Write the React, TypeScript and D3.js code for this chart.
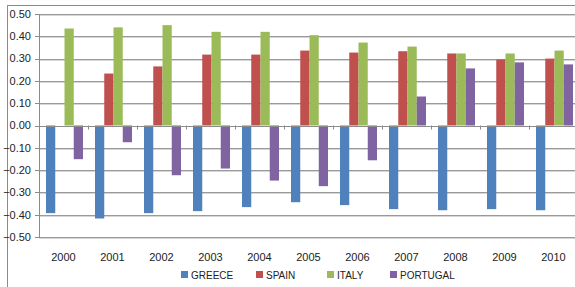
import React, { useEffect, useRef } from 'react';
import * as d3 from 'd3';

const years = ['2000', '2001', '2002', '2003', '2004', '2005', '2006', '2007', '2008', '2009', '2010'];
const countries = ['GREECE', 'SPAIN', 'ITALY', 'PORTUGAL'];
const colors = ['#4F81BD', '#C0504D', '#9BBB59', '#8064A2'];

const greece = [-0.393, -0.417, -0.393, -0.384, -0.366, -0.344, -0.357, -0.375, -0.38, -0.375, -0.38];
const spain = [0, 0.233, 0.265, 0.318, 0.318, 0.336, 0.327, 0.333, 0.323, 0.296, 0.3];
const italy = [0.435, 0.44, 0.45, 0.42, 0.42, 0.405, 0.372, 0.354, 0.323, 0.323, 0.336];
const portugal = [-0.151, -0.075, -0.223, -0.193, -0.247, -0.272, -0.156, 0.13, 0.256, 0.283, 0.274];

const yTicks = [0.5, 0.4, 0.3, 0.2, 0.1, 0, -0.1, -0.2, -0.3, -0.4, -0.5];

const W = 575;
const H = 287;
const FONT = '"Liberation Sans", Arial, sans-serif';

export default function App() {
  const ref = useRef(null);

  useEffect(() => {
    document.body.style.margin = '0';
    const svg = d3.select(ref.current);
    svg.selectAll('*').remove();

    const series = [greece, spain, italy, portugal];

    const x0 = d3.scaleBand().domain(years).range([39, 578]).padding(0);
    const x1 = d3.scaleBand().domain(countries).range([7, 44]).padding(0);
    const y = d3.scaleLinear().domain([-0.5, 0.5]).range([237, 14]);

    // outer border (top and left visible)
    svg.append('line').attr('x1', 7.5).attr('x2', W).attr('y1', 5.5).attr('y2', 5.5)
      .attr('stroke', '#8c8c8c').attr('stroke-width', 1);
    svg.append('line').attr('x1', 7.5).attr('x2', 7.5).attr('y1', 5).attr('y2', H)
      .attr('stroke', '#8c8c8c').attr('stroke-width', 1);

    // gridlines
    const grid = svg.append('g');
    yTicks.forEach(t => {
      if (t === 0) return;
      grid.append('line').attr('x1', 39).attr('x2', W)
        .attr('y1', Math.round(y(t)) + 0.5).attr('y2', Math.round(y(t)) + 0.5)
        .attr('stroke', '#9a9a9a').attr('stroke-width', 1);
      grid.append('line').attr('x1', 39).attr('x2', W)
        .attr('y1', Math.round(y(t)) + 1.5).attr('y2', Math.round(y(t)) + 1.5)
        .attr('stroke', '#d6d6d6').attr('stroke-width', 1);
    });

    // y axis
    const yAxis = svg.append('g');
    yAxis.append('line').attr('x1', 39.5).attr('x2', 39.5).attr('y1', y(0.5)).attr('y2', y(-0.5) + 1)
      .attr('stroke', '#8c8c8c');
    yTicks.forEach(t => {
      yAxis.append('line').attr('x1', 35).attr('x2', 39).attr('y1', Math.round(y(t)) + 0.5)
        .attr('y2', Math.round(y(t)) + 0.5).attr('stroke', '#8c8c8c');
      yAxis.append('text').attr('x', 31).attr('y', y(t)).attr('dy', '0.35em')
        .attr('text-anchor', 'end').style('font-family', FONT).style('font-size', '11px')
        .attr('fill', '#222').text(d3.format('.2f')(t));
    });

    // bars
    years.forEach((yr, i) => {
      series.forEach((s, j) => {
        const v = s[i];
        if (v === 0) return;
        svg.append('rect')
          .attr('x', x0(yr) + x1(countries[j]))
          .attr('width', x1.bandwidth())
          .attr('y', y(Math.max(0, v)))
          .attr('height', Math.abs(y(v) - y(0)))
          .attr('fill', colors[j]);
      });
    });

    // zero line and category ticks
    svg.append('line').attr('x1', 39).attr('x2', W).attr('y1', Math.round(y(0)) + 0.5)
      .attr('y2', Math.round(y(0)) + 0.5).attr('stroke', '#8c8c8c');
    years.forEach(yr => {
      const xb = Math.round(x0(yr) + x0.bandwidth()) + 0.5;
      svg.append('line').attr('x1', xb).attr('x2', xb).attr('y1', y(0)).attr('y2', y(0) + 4)
        .attr('stroke', '#8c8c8c');
      svg.append('text').attr('x', x0(yr) + x0.bandwidth() / 2).attr('y', 257).attr('dy', '0.35em')
        .attr('text-anchor', 'middle').style('font-family', FONT).style('font-size', '11px')
        .attr('fill', '#222').text(yr);
    });

    // legend
    const legendX = [181, 256, 327, 390];
    countries.forEach((c, j) => {
      svg.append('rect').attr('x', legendX[j]).attr('y', 271).attr('width', 7).attr('height', 7)
        .attr('fill', colors[j]);
      svg.append('text').attr('x', legendX[j] + 10).attr('y', 275).attr('dy', '0.35em')
        .style('font-family', FONT).style('font-size', '10px').attr('fill', '#222').text(c);
    });
  }, []);

  return <svg ref={ref} width={W} height={H} style={{ display: 'block', background: '#fff' }} />;
}
